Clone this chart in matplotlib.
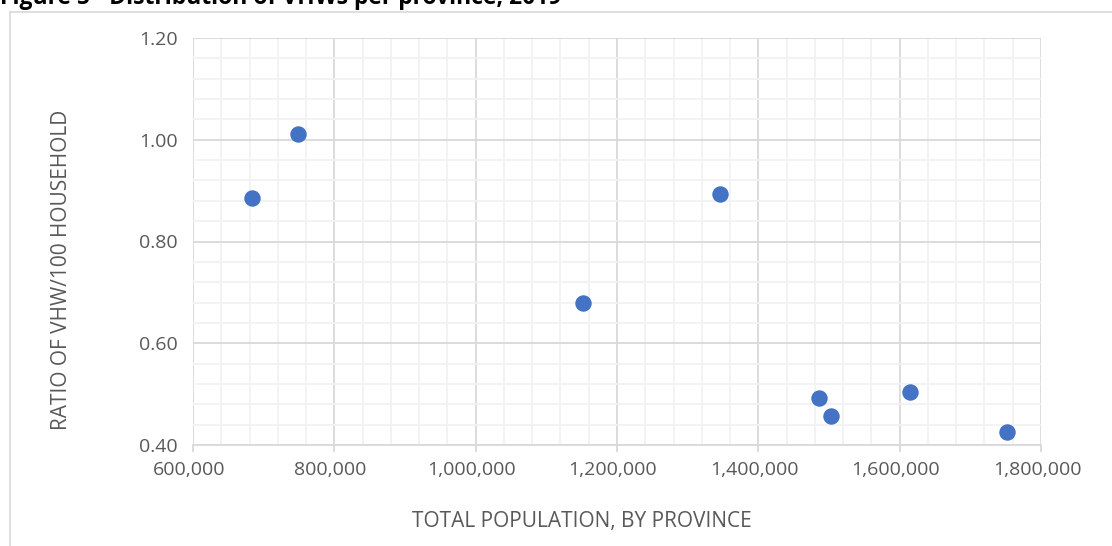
import matplotlib
matplotlib.use("Agg")
import matplotlib.pyplot as plt
import matplotlib.transforms as mtransforms
from matplotlib.ticker import MultipleLocator, FuncFormatter
from matplotlib.lines import Line2D

# Province population vs. VHW ratio per 100 households
population = [684000, 749000, 1152500, 1345400, 1485400, 1502200, 1614700, 1752500]
vhw_ratio = [0.886, 1.011, 0.679, 0.893, 0.492, 0.457, 0.505, 0.425]

x_ticks = [600000, 800000, 1000000, 1200000, 1400000, 1600000, 1800000]
y_ticks = [0.40, 0.60, 0.80, 1.00, 1.20]

title = "Figure 5 - Distribution of VHWs per province, 2019"
x_label = "TOTAL POPULATION, BY PROVINCE"
y_label = "RATIO OF VHW/100 HOUSEHOLD"

plt.rcParams["font.family"] = ["Open Sans", "DejaVu Sans"]
text_color = "#595959"
W, H = 1112, 546

fig = plt.figure(figsize=(W / 100, H / 100), dpi=100)
ax = fig.add_axes([193 / W, 1 - 445 / H, (1041 - 193) / W, (445 - 38) / H])

ax.scatter(population, vhw_ratio, s=140, color="#4472C4", zorder=3, linewidths=0)

ax.set_xlim(x_ticks[0], x_ticks[-1])
ax.set_ylim(y_ticks[0], y_ticks[-1])
ax.set_xticks(x_ticks)
ax.set_yticks(y_ticks)
ax.xaxis.set_minor_locator(MultipleLocator(40000))
ax.yaxis.set_minor_locator(MultipleLocator(0.04))
ax.xaxis.set_major_formatter(FuncFormatter(lambda v, p: f"{v:,.0f}"))
ax.yaxis.set_major_formatter(FuncFormatter(lambda v, p: f"{v:.2f}"))

ax.grid(which="major", color="#d9d9d9", linewidth=1.3, zorder=1)
ax.grid(which="minor", color="#f2f2f2", linewidth=1.3, zorder=0)
ax.set_axisbelow(True)

for side in ("top", "right", "left"):
    ax.spines[side].set_visible(False)
ax.spines["bottom"].set_color("#d9d9d9")
ax.spines["bottom"].set_linewidth(1.3)

ax.tick_params(axis="x", which="major", length=5, width=1.3, color="#d9d9d9",
               labelsize=14, labelcolor=text_color, pad=5)
ax.tick_params(axis="y", which="major", length=0, labelsize=14,
               labelcolor=text_color, pad=11)
ax.tick_params(which="minor", length=0)

# Nudge the population labels slightly left of their gridlines
shift = mtransforms.ScaledTranslation(-4 / 100, -2 / 100, fig.dpi_scale_trans)
for lbl in ax.get_xticklabels():
    lbl.set_transform(lbl.get_transform() + shift)

# Axis titles placed in figure pixels
fig.text(582 / W, 1 - 522 / H, x_label, fontsize=15, color=text_color,
         ha="center", va="center")
fig.text(62 / W, 1 - 270 / H, y_label, fontsize=15, color=text_color,
         ha="center", va="center", rotation=90)

# Chart frame: top and left edges of the outer border
fig.add_artist(Line2D([10 / W, 1.0], [1 - 11.5 / H, 1 - 11.5 / H],
                      transform=fig.transFigure, color="#d9d9d9", linewidth=1.2))
fig.add_artist(Line2D([10 / W, 10 / W], [0.0, 1 - 11.5 / H],
                      transform=fig.transFigure, color="#d9d9d9", linewidth=1.2))

fig.text(0.0, 1 - 4 / H, title, fontsize=16.5, fontweight="bold", color="black",
         ha="left", va="baseline")

fig.savefig("out.png", dpi=100, facecolor="white")
